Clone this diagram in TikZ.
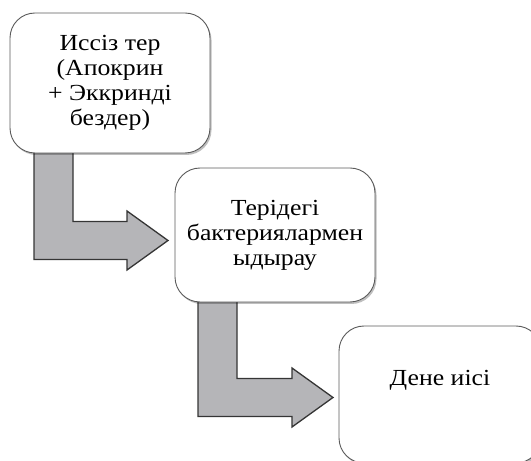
\documentclass[tikz,border=0pt]{standalone}
\usepackage{fontspec}
\setmainfont{Liberation Serif}[FakeStretch=1.12]
\usetikzlibrary{calc,shadows}
\definecolor{boxline}{HTML}{5A5A5A}
\definecolor{arrowfill}{HTML}{B5B5B8}
\definecolor{arrowline}{HTML}{353535}
\tikzset{
  stagebox/.style={draw=boxline, line width=0.9pt, fill=white, rounded corners=25pt,
    align=center, font=\fontsize{23}{25}\selectfont, inner sep=0pt,
    drop shadow={shadow xshift=1.5pt, shadow yshift=-2pt, opacity=0.25, fill=black}},
  stagetext/.style={align=center, font=\fontsize{23}{25}\selectfont, inner sep=0pt},
  blockarrow/.style={draw=arrowline, line width=1.3pt, fill=arrowfill, line join=miter}
}
% bent block arrow: #1 = top centre of the vertical shaft, #2 = tip
\newcommand{\bentarrow}[2]{%
  \path[blockarrow] let \p1=(#1), \p2=(#2) in
    (\x1-19.5,\y1) -- (\x1-19.5,\y2-19) -- (\x2-41,\y2-19) -- (\x2-41,\y2-29.5)
    -- (\x2,\y2) -- (\x2-41,\y2+29.5) -- (\x2-41,\y2+19) -- (\x1+19.5,\y2+19)
    -- (\x1+19.5,\y1) -- cycle;}
\begin{document}
\begin{tikzpicture}[x=1pt,y=1pt]
\useasboundingbox (0,0) rectangle (531,461);
\begin{scope}
\clip (0,0) rectangle (531,461);
% box centres and the anchor points the arrows need
\path (110,378) coordinate (c1);
\path (275,226) coordinate (c2);
\path (440,66.5) coordinate (c3);
\path ($(c1)+(-100,-70)$) coordinate (b1sw);
\path ($(c2)+(-100,-67)$) coordinate (b2sw);
\path ($(c2)+(-100,0)$) coordinate (b2w);
\path ($(c3)+(-101,0)$) coordinate (b3w);
\coordinate (a1s) at ($(b1sw)+(43.5,6)$);
\coordinate (a1t) at ($(b2w)+(-7,-5.5)$);
\coordinate (a2s) at ($(b2sw)+(42.5,6)$);
\coordinate (a2t) at ($(b3w)+(-6,-3)$);
\bentarrow{a1s}{a1t}
\bentarrow{a2s}{a2t}
\node[stagebox, minimum width=200pt, minimum height=140pt] (b1) at (c1)
  {Иссіз тер\\(Апокрин\\+ Эккринді\\бездер)};
\node[stagebox, minimum width=200pt, minimum height=134pt] (b2) at (c2)
  {Терідегі\\бактериялармен\\ыдырау};
\node[stagebox, minimum width=202pt, minimum height=137pt] (b3) at (c3) {};
\node[stagetext] (t3) at ($(b3.center)+(0,14)$) {Дене иісі};
\end{scope}
\end{tikzpicture}
\end{document}
